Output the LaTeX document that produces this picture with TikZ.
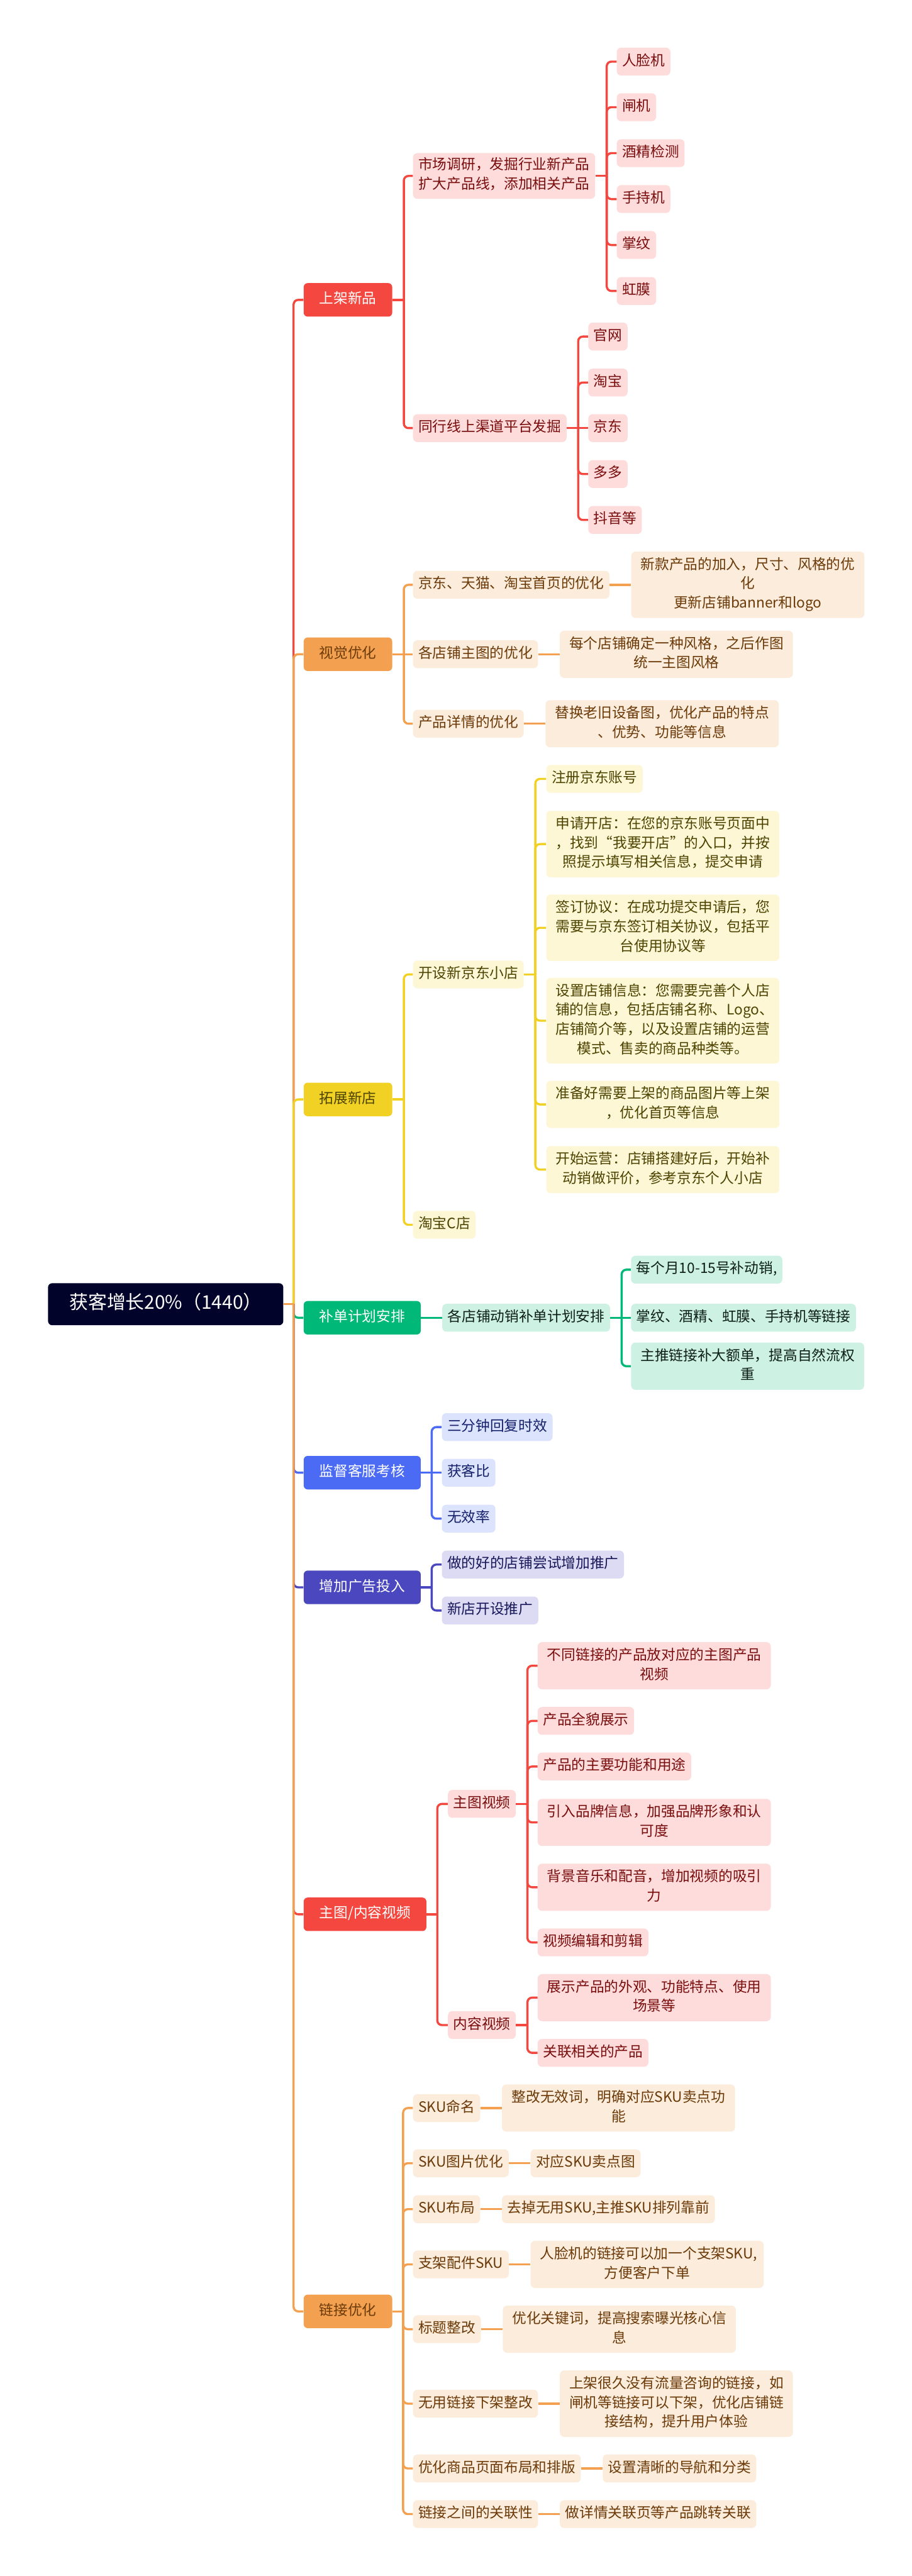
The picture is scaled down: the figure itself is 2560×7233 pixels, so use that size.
\documentclass[tikz,border=0pt]{standalone}
\usepackage{fontspec}
\setmainfont{Noto Sans CJK SC}
\usepackage{xcolor}
\usepackage{tikz}
\usetikzlibrary{positioning}
\definecolor{mmRoot}{HTML}{02032A}
\definecolor{mmRed}{HTML}{F4473F}
\definecolor{mmRedBox}{HTML}{FDDCDB}
\definecolor{mmRedText}{HTML}{7A0D0D}
\definecolor{mmOrange}{HTML}{F3A150}
\definecolor{mmOrangeBox}{HTML}{FCECDC}
\definecolor{mmOrangeText}{HTML}{6B3A08}
\definecolor{mmYellow}{HTML}{F1D123}
\definecolor{mmYellowBox}{HTML}{FDF7D6}
\definecolor{mmYellowText}{HTML}{4D4300}
\definecolor{mmGreen}{HTML}{00B979}
\definecolor{mmGreenBox}{HTML}{CDF1E3}
\definecolor{mmGreenText}{HTML}{0E1F18}
\definecolor{mmBlue}{HTML}{4B6BF4}
\definecolor{mmBlueBox}{HTML}{DCE3FD}
\definecolor{mmBlueText}{HTML}{15206B}
\definecolor{mmIndigo}{HTML}{4A47BF}
\definecolor{mmIndigoBox}{HTML}{DCDBF3}
\definecolor{mmIndigoText}{HTML}{18175A}

% stub to the right of a parent, then one rounded elbow per child
\newcommand{\forkto}[4]{%
  \draw[#1] (#2.east) -- ++(#3,0);
  \foreach \kid in {#4}
    \draw[#1, rounded corners=0.13cm] (#2.east) ++(#3,0) |- (\kid.west);
}

\begin{document}
\begin{tikzpicture}[
  x=0.01cm, y=-0.01cm,
  every node/.style={
    font=\fontsize{11.4}{15.4}\selectfont,
    anchor=west,
    inner ysep=0.12cm,
    execute at begin node=\strut,
    execute at end node=\strut
  },
  rootnode/.style={
    fill=mmRoot, text=white,
    rounded corners=0.12cm,
    font=\fontsize{15}{18}\selectfont,
    inner xsep=0.6cm,
    minimum height=1.18cm
  },
  topic/.style 2 args={
    fill=#1, text=#2,
    rounded corners=0.11cm,
    inner xsep=0.44cm,
    minimum height=0.94cm
  },
  leaf/.style 2 args={
    fill=#1, text=#2,
    rounded corners=0.12cm,
    inner xsep=0.15cm,
    minimum height=0.78cm,
    align=center
  },
  para/.style={text width=6.02cm, align=center, inner xsep=0.26cm},
  redleaf/.style={leaf={mmRedBox}{mmRedText}},
  orangeleaf/.style={leaf={mmOrangeBox}{mmOrangeText}},
  yellowleaf/.style={leaf={mmYellowBox}{mmYellowText}},
  greenleaf/.style={leaf={mmGreenBox}{mmGreenText}},
  blueleaf/.style={leaf={mmBlueBox}{mmBlueText}},
  indigoleaf/.style={leaf={mmIndigoBox}{mmIndigoText}},
  redline/.style={draw=mmRed, line width=0.06cm},
  orangeline/.style={draw=mmOrange, line width=0.06cm},
  yellowline/.style={draw=mmYellow, line width=0.06cm},
  greenline/.style={draw=mmGreen, line width=0.06cm},
  blueline/.style={draw=mmBlue, line width=0.06cm},
  indigoline/.style={draw=mmIndigo, line width=0.06cm}
]
\useasboundingbox (0,0) rectangle (2560,7233);
\fill[white] (0,0) rectangle (2560,7233);

\node[rootnode] (root) at (134,3662) {获客增长20\%（1440）};

% 上架新品
\node[topic={mmRed}{white}] (b1) at (852,842) {上架新品};
\node[redleaf] (b1a) at (1159,494) {市场调研，发掘行业新产品\\扩大产品线，添加相关产品};
\node[redleaf] (b1a1) at (1731,173) {人脸机};
\node[redleaf] (b1a2) at (1731,301) {闸机};
\node[redleaf] (b1a3) at (1731,430) {酒精检测};
\node[redleaf] (b1a4) at (1731,559) {手持机};
\node[redleaf] (b1a5) at (1731,688) {掌纹};
\node[redleaf] (b1a6) at (1731,817) {虹膜};
\node[redleaf] (b1b) at (1159,1202) {同行线上渠道平台发掘};
\node[redleaf] (b1b1) at (1651,945) {官网};
\node[redleaf] (b1b2) at (1651,1074) {淘宝};
\node[redleaf] (b1b3) at (1651,1202) {京东};
\node[redleaf] (b1b4) at (1651,1331) {多多};
\node[redleaf] (b1b5) at (1651,1460) {抖音等};

% 视觉优化
\node[topic={mmOrange}{mmOrangeText}] (b2) at (852,1837) {视觉优化};
\node[orangeleaf] (b2a) at (1159,1642) {京东、天猫、淘宝首页的优化};
\node[orangeleaf, para, right=0.6cm of b2a] (b2a1) {新款产品的加入，尺寸、风格的优\\化\\更新店铺banner和logo};
\node[orangeleaf] (b2b) at (1159,1837) {各店铺主图的优化};
\node[orangeleaf, para, right=0.6cm of b2b] (b2b1) {每个店铺确定一种风格，之后作图\\统一主图风格};
\node[orangeleaf] (b2c) at (1159,2032) {产品详情的优化};
\node[orangeleaf, para, right=0.6cm of b2c] (b2c1) {替换老旧设备图，优化产品的特点\\、优势、功能等信息};

% 拓展新店
\node[topic={mmYellow}{mmYellowText}] (b3) at (852,3087) {拓展新店};
\node[yellowleaf] (b3a) at (1159,2736) {开设新京东小店};
\node[yellowleaf] (b3a1) at (1533,2187) {注册京东账号};
\node[yellowleaf, para] (b3a2) at (1533,2370) {申请开店：在您的京东账号页面中\\，找到“我要开店”的入口，并按\\照提示填写相关信息，提交申请};
\node[yellowleaf, para] (b3a3) at (1533,2605) {签订协议：在成功提交申请后，您\\需要与京东签订相关协议，包括平\\台使用协议等};
\node[yellowleaf, para] (b3a4) at (1533,2866) {设置店铺信息：您需要完善个人店\\铺的信息，包括店铺名称、Logo、\\店铺简介等，以及设置店铺的运营\\模式、售卖的商品种类等。};
\node[yellowleaf, para] (b3a5) at (1533,3101) {准备好需要上架的商品图片等上架\\，优化首页等信息};
\node[yellowleaf, para] (b3a6) at (1533,3284) {开始运营：店铺搭建好后，开始补\\动销做评价，参考京东个人小店};
\node[yellowleaf] (b3b) at (1159,3439) {淘宝C店};

% 补单计划安排
\node[topic={mmGreen}{white}] (b4) at (852,3700) {补单计划安排};
\node[greenleaf] (b4a) at (1241,3700) {各店铺动销补单计划安排};
\node[greenleaf] (b4a1) at (1771,3565) {每个月10-15号补动销,};
\node[greenleaf] (b4a2) at (1771,3700) {掌纹、酒精、虹膜、手持机等链接};
\node[greenleaf, para] (b4a3) at (1771,3836) {主推链接补大额单，提高自然流权\\重};

% 监督客服考核
\node[topic={mmBlue}{white}] (b5) at (852,4135) {监督客服考核};
\node[blueleaf] (b5a) at (1240,4007) {三分钟回复时效};
\node[blueleaf] (b5b) at (1240,4135) {获客比};
\node[blueleaf] (b5c) at (1240,4264) {无效率};

% 增加广告投入
\node[topic={mmIndigo}{white}] (b6) at (852,4457) {增加广告投入};
\node[indigoleaf] (b6a) at (1240,4393) {做的好的店铺尝试增加推广};
\node[indigoleaf] (b6b) at (1240,4522) {新店开设推广};

% 主图/内容视频
\node[topic={mmRed}{white}] (b7) at (852,5375) {主图/内容视频};
\node[redleaf] (b7a) at (1257,5065) {主图视频};
\node[redleaf, para] (b7a1) at (1509,4677) {不同链接的产品放对应的主图产品\\视频};
\node[redleaf] (b7a2) at (1509,4832) {产品全貌展示};
\node[redleaf] (b7a3) at (1509,4960) {产品的主要功能和用途};
\node[redleaf, para] (b7a4) at (1509,5117) {引入品牌信息，加强品牌形象和认\\可度};
\node[redleaf, para] (b7a5) at (1509,5299) {背景音乐和配音，增加视频的吸引\\力};
\node[redleaf] (b7a6) at (1509,5454) {视频编辑和剪辑};
\node[redleaf] (b7b) at (1257,5686) {内容视频};
\node[redleaf, para] (b7b1) at (1509,5609) {展示产品的外观、功能特点、使用\\场景等};
\node[redleaf] (b7b2) at (1509,5764) {关联相关的产品};

% 链接优化
\node[topic={mmOrange}{mmOrangeText}] (b8) at (852,6490) {链接优化};
\node[orangeleaf] (b8a) at (1159,5919) {SKU命名};
\node[orangeleaf, para, right=0.6cm of b8a] (b8a1) {整改无效词，明确对应SKU卖点功\\能};
\node[orangeleaf] (b8b) at (1159,6074) {SKU图片优化};
\node[orangeleaf, right=0.6cm of b8b] (b8b1) {对应SKU卖点图};
\node[orangeleaf] (b8c) at (1159,6203) {SKU布局};
\node[orangeleaf, right=0.6cm of b8c] (b8c1) {去掉无用SKU,主推SKU排列靠前};
\node[orangeleaf] (b8d) at (1159,6358) {支架配件SKU};
\node[orangeleaf, para, right=0.6cm of b8d] (b8d1) {人脸机的链接可以加一个支架SKU,\\方便客户下单};
\node[orangeleaf] (b8e) at (1159,6540) {标题整改};
\node[orangeleaf, para, right=0.6cm of b8e] (b8e1) {优化关键词，提高搜索曝光核心信\\息};
\node[orangeleaf] (b8f) at (1159,6749) {无用链接下架整改};
\node[orangeleaf, para, right=0.6cm of b8f] (b8f1) {上架很久没有流量咨询的链接，如\\闸机等链接可以下架，优化店铺链\\接结构，提升用户体验};
\node[orangeleaf] (b8g) at (1159,6931) {优化商品页面布局和排版};
\node[orangeleaf, right=0.6cm of b8g] (b8g1) {设置清晰的导航和分类};
\node[orangeleaf] (b8h) at (1159,7059) {链接之间的关联性};
\node[orangeleaf, right=0.6cm of b8h] (b8h1) {做详情关联页等产品跳转关联};

% root to main topics
\forkto{redline}{root}{28}{b1}
\forkto{orangeline}{root}{28}{b2}
\forkto{yellowline}{root}{28}{b3}
\forkto{greenline}{root}{28}{b4}
\forkto{blueline}{root}{28}{b5}
\forkto{indigoline}{root}{28}{b6}
\forkto{redline}{root}{28}{b7}
\forkto{orangeline}{root}{28}{b8}

% topics to children
\forkto{redline}{b1}{32}{b1a,b1b}
\forkto{redline}{b1a}{32}{b1a1,b1a2,b1a3,b1a4,b1a5,b1a6}
\forkto{redline}{b1b}{32}{b1b1,b1b2,b1b4,b1b5}
\draw[redline] (b1b.east) -- (b1b3.west);

\forkto{orangeline}{b2}{32}{b2a,b2c}
\draw[orangeline] (b2.east) -- (b2b.west);
\draw[orangeline] (b2a.east) -- (b2a1.west);
\draw[orangeline] (b2b.east) -- (b2b1.west);
\draw[orangeline] (b2c.east) -- (b2c1.west);

\forkto{yellowline}{b3}{32}{b3a,b3b}
\forkto{yellowline}{b3a}{32}{b3a1,b3a2,b3a3,b3a4,b3a5,b3a6}

\draw[greenline] (b4.east) -- (b4a.west);
\forkto{greenline}{b4a}{32}{b4a1,b4a3}
\draw[greenline] (b4a.east) -- (b4a2.west);

\forkto{blueline}{b5}{30}{b5a,b5c}
\draw[blueline] (b5.east) -- (b5b.west);

\forkto{indigoline}{b6}{30}{b6a,b6b}

\forkto{redline}{b7}{30}{b7a,b7b}
\forkto{redline}{b7a}{32}{b7a1,b7a2,b7a3,b7a4,b7a5,b7a6}
\forkto{redline}{b7b}{32}{b7b1,b7b2}

\forkto{orangeline}{b8}{30}{b8a,b8b,b8c,b8d,b8e,b8f,b8g,b8h}
\draw[orangeline] (b8a.east) -- (b8a1.west);
\draw[orangeline] (b8b.east) -- (b8b1.west);
\draw[orangeline] (b8c.east) -- (b8c1.west);
\draw[orangeline] (b8d.east) -- (b8d1.west);
\draw[orangeline] (b8e.east) -- (b8e1.west);
\draw[orangeline] (b8f.east) -- (b8f1.west);
\draw[orangeline] (b8g.east) -- (b8g1.west);
\draw[orangeline] (b8h.east) -- (b8h1.west);
\end{tikzpicture}
\end{document}
